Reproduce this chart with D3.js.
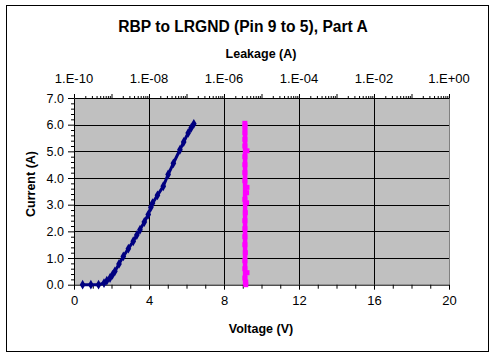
<!DOCTYPE html>
<html>
<head>
<meta charset="utf-8">
<script src="https://cdn.jsdelivr.net/npm/d3@7"></script>
<style>
  body { margin: 0; background: #fff; }
  text { font-family: "Liberation Sans", Arial, sans-serif; fill: #000; }
  .axis path, .axis line { stroke: #000; }
</style>
</head>
<body>
<svg id="chart"></svg>
<script>
// Voltage sweep (V) vs current (A) - navy series, bottom axis
const voltage = [0.46, 0.9, 1.31, 1.6, 1.75, 1.92, 2.05, 2.18, 2.4, 2.63, 2.9, 3.16, 3.35, 3.52, 3.75, 3.96, 4.1, 4.19, 4.45, 4.76, 5.02, 5.3, 5.65, 5.85, 6.09, 6.25, 6.39];
const currentV = [0, 0, 0, 0.06, 0.15, 0.25, 0.37, 0.5, 0.78, 1.06, 1.35, 1.63, 1.86, 2.06, 2.35, 2.63, 2.9, 3.06, 3.35, 3.69, 4.13, 4.55, 5.06, 5.35, 5.69, 5.88, 6.03];

// Leakage (A) vs current (A) - magenta series, top log axis
const leakage = [3.8e-6, 3.8e-6, 3.6e-6, 4.1e-6, 3.6e-6, 3.6e-6, 3.7e-6, 3.6e-6, 3.6e-6, 3.6e-6, 3.6e-6, 3.7e-6, 4.0e-6, 3.6e-6, 4.0e-6, 4.1e-6, 3.6e-6, 3.6e-6, 3.6e-6, 3.6e-6, 4.1e-6, 3.6e-6, 3.6e-6, 3.6e-6, 3.6e-6, 3.6e-6];
const currentL = [0, 0.1, 0.25, 0.45, 0.6, 0.9, 1.2, 1.5, 1.8, 2.1, 2.4, 2.7, 3.07, 3.2, 3.45, 3.65, 3.9, 4.2, 4.5, 4.8, 5.02, 5.2, 5.45, 5.7, 5.9, 6.05];

const xMajorTicks = [0, 4, 8, 12, 16, 20];
const yMajorTicks = [0, 1, 2, 3, 4, 5, 6, 7];
const leakLabelTicks = [1e-10, 1e-8, 1e-6, 1e-4, 1e-2, 1];

const width = 493, height = 358;
const margin = {top: 98, right: 44, bottom: 73, left: 74};
const w = width - margin.left - margin.right;
const h = height - margin.top - margin.bottom - 0.3;

const svg = d3.select('#chart').attr('width', width).attr('height', height);

// outer frame
svg.append('rect')
  .attr('x', 6.5).attr('y', 5.5)
  .attr('width', 482).attr('height', 346)
  .attr('fill', '#fff').attr('stroke', '#000');

const chart = svg.append('g')
  .attr('transform', `translate(${margin.left}, ${margin.top})`);

const xScale = d3.scaleLinear().domain([0, 20]).range([0, w]);
const yScale = d3.scaleLinear().domain([0, 7]).range([h, 0]);
const xTop = d3.scaleLog().domain([1e-10, 1]).range([0, w]);

// plot area
chart.append('rect')
  .attr('width', w).attr('height', h)
  .attr('fill', '#c0c0c0');

// gridlines
chart.append('g').selectAll('line')
  .data(yMajorTicks.slice(1, -1))
  .join('line')
  .attr('x1', 0).attr('x2', w)
  .attr('y1', d => Math.round(yScale(d)) + 0.5)
  .attr('y2', d => Math.round(yScale(d)) + 0.5)
  .attr('stroke', '#000');
chart.append('g').selectAll('line')
  .data(xMajorTicks.slice(1, -1))
  .join('line')
  .attr('y1', 0).attr('y2', h)
  .attr('x1', d => Math.round(xScale(d)) + 0.5)
  .attr('x2', d => Math.round(xScale(d)) + 0.5)
  .attr('stroke', '#000');

// right border of plot
chart.append('line')
  .attr('x1', w + 0.5).attr('x2', w + 0.5)
  .attr('y1', 0).attr('y2', h)
  .attr('stroke', '#808080');

// bottom axis
const xMinor = d3.range(0, 21, 1).filter(d => d % 4 !== 0);
chart.append('g')
  .attr('class', 'axis')
  .attr('transform', `translate(0,${h})`)
  .call(d3.axisBottom(xScale).tickValues(xMinor).tickSize(4).tickFormat(''))
  .call(g => g.select('.domain').remove());
chart.append('g')
  .attr('class', 'axis')
  .attr('transform', `translate(0,${h})`)
  .call(d3.axisBottom(xScale).tickValues(xMajorTicks).tickSize(5).tickSizeOuter(0).tickPadding(6))
  .call(g => g.selectAll('text').attr('font-size', 13));

// left axis
const yMinor = d3.range(0, 7.01, 0.2).filter(d => Math.abs(d - Math.round(d)) > 0.01);
chart.append('g')
  .attr('class', 'axis')
  .call(d3.axisLeft(yScale).tickValues(yMinor).tickSize(3).tickFormat(''))
  .call(g => g.select('.domain').remove());
chart.append('g')
  .attr('class', 'axis')
  .call(d3.axisLeft(yScale).tickValues(yMajorTicks).tickSize(6).tickSizeOuter(0).tickPadding(4).tickFormat(d3.format('.1f')))
  .call(g => g.selectAll('text').attr('font-size', 12.5));

// top log axis
const topMinor = [];
for (let e = -10; e < 0; e++) {
  for (let m = 2; m <= 9; m++) topMinor.push(m * Math.pow(10, e));
}
const topMajor = d3.range(-10, 1).map(e => Math.pow(10, e));
chart.append('g')
  .attr('class', 'axis')
  .call(d3.axisTop(xTop).tickValues(topMinor).tickSize(2).tickFormat(''))
  .call(g => g.select('.domain').remove());
chart.append('g')
  .attr('class', 'axis')
  .call(d3.axisTop(xTop).tickValues(topMajor).tickSize(4).tickSizeOuter(0).tickFormat(''));
const fmtLeak = d => {
  const e = Math.round(Math.log10(d));
  return '1.E' + (e < 0 ? '-' : '+') + String(Math.abs(e)).padStart(2, '0');
};
chart.append('g').selectAll('text')
  .data(leakLabelTicks)
  .join('text')
  .attr('x', d => xTop(d))
  .attr('y', -15)
  .attr('text-anchor', 'middle')
  .attr('font-size', 13)
  .text(fmtLeak);

// series: voltage
const voltData = voltage.map((v, i) => ({x: v, y: currentV[i]}));
const voltLine = d3.line().x(d => xScale(d.x)).y(d => yScale(d.y));
chart.append('path')
  .datum(voltData)
  .attr('d', voltLine)
  .attr('fill', 'none')
  .attr('stroke', '#000080')
  .attr('stroke-width', 3);
chart.append('g').selectAll('path')
  .data(voltData)
  .join('path')
  .attr('transform', d => `translate(${xScale(d.x)},${yScale(d.y)})`)
  .attr('d', d3.symbol(d3.symbolDiamond, 28))
  .attr('fill', '#000080');

// series: leakage
const leakData = leakage.map((v, i) => ({x: v, y: currentL[i]}));
const leakLine = d3.line().x(d => xTop(d.x)).y(d => yScale(d.y));
chart.append('path')
  .datum(leakData.slice().sort((a, b) => a.y - b.y).map(d => ({x: 3.65e-6, y: d.y})))
  .attr('d', leakLine)
  .attr('fill', 'none')
  .attr('stroke', '#ff00ff')
  .attr('stroke-width', 4.5);
chart.append('g').selectAll('rect')
  .data(leakData)
  .join('rect')
  .attr('x', d => xTop(d.x) - 2.5)
  .attr('y', d => yScale(d.y) - 2.5)
  .attr('width', 5).attr('height', 5)
  .attr('fill', '#ff00ff');

// titles
svg.append('text')
  .attr('x', 243).attr('y', 32)
  .attr('text-anchor', 'middle')
  .attr('font-size', 15.6).attr('font-weight', 'bold')
  .text('RBP to LRGND (Pin 9 to 5), Part A');
svg.append('text')
  .attr('x', 261).attr('y', 58)
  .attr('text-anchor', 'middle')
  .attr('font-size', 12.5).attr('font-weight', 'bold')
  .text('Leakage (A)');
svg.append('text')
  .attr('x', 261).attr('y', 333)
  .attr('text-anchor', 'middle')
  .attr('font-size', 12.5).attr('font-weight', 'bold')
  .text('Voltage (V)');
svg.append('text')
  .attr('transform', 'translate(35,184) rotate(-90)')
  .attr('text-anchor', 'middle')
  .attr('font-size', 12.5).attr('font-weight', 'bold')
  .text('Current (A)');
</script>
</body>
</html>
